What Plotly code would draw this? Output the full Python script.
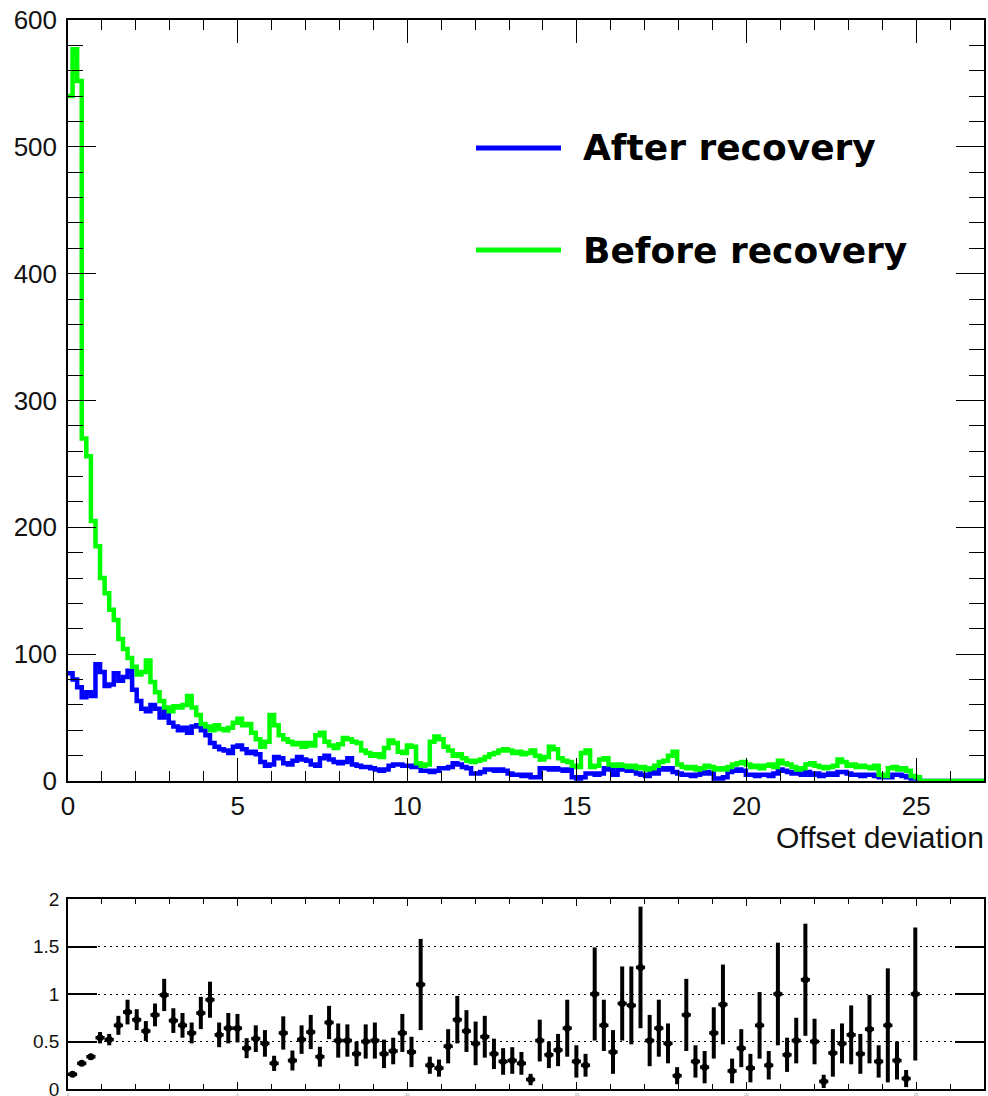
import numpy as np
import plotly.graph_objects as go

# ---------------- data ----------------
x_min, x_max, n_bins = 0.0, 27.0, 200          # top histograms
ratio_bins = 100                                # ratio panel (rebinned x2)

before_recovery = [
    540, 577, 552, 270, 256, 205, 185, 160, 148, 135,
    127, 112, 104, 97, 90, 84, 86, 95, 78, 70,
    63, 58, 55, 59, 58, 60, 67, 58, 52, 45,
    43, 40, 44, 41, 40, 42, 46, 49, 44, 45,
    38, 33, 27, 31, 52, 44, 36, 33, 31, 29,
    30, 27, 30, 28, 36, 38, 31, 28, 26, 29,
    34, 33, 31, 30, 24, 22, 20, 21, 19, 26,
    32, 30, 23, 22, 28, 27, 14, 12, 13, 31,
    35, 33, 27, 24, 20, 21, 18, 16, 15, 16,
    17, 19, 21, 22, 24, 25, 24, 22, 23, 21,
    22, 24, 20, 17, 19, 27, 25, 18, 16, 15,
    12, 11, 22, 24, 11, 12, 17, 18, 13, 12,
    13, 12, 11, 12, 10, 11, 9, 10, 12, 15,
    16, 20, 23, 13, 11, 10, 11, 9, 10, 12,
    11, 9, 10, 9, 11, 13, 14, 15, 13, 11,
    12, 10, 12, 13, 11, 16, 14, 13, 11, 9,
    10, 13, 14, 12, 11, 10, 11, 12, 17, 15,
    12, 13, 11, 12, 11, 10, 12, 5, 4, 10,
    11, 9, 10, 8, 4, 3, 0, 0, 0, 0,
    0, 0, 0, 0, 0, 0, 0, 0, 0, 0,
]

after_recovery = [
    85, 80, 74, 66, 70, 67, 92, 86, 75, 76,
    85, 79, 82, 87, 72, 63, 57, 55, 60, 57,
    50, 55, 46, 43, 40, 42, 38, 43, 44, 40,
    36, 30, 27, 25, 24, 22, 27, 28, 25, 22,
    23, 21, 15, 12, 13, 19, 18, 14, 13, 16,
    19, 17, 16, 13, 12, 18, 20, 17, 15, 14,
    15, 18, 13, 12, 11, 11, 10, 9, 8, 9,
    12, 13, 13, 12, 12, 11, 13, 8, 8, 7,
    8, 10, 10, 11, 14, 13, 11, 10, 6, 6,
    7, 9, 9, 8, 9, 8, 6, 5, 5, 4,
    5, 3, 3, 10, 10, 9, 10, 9, 8, 9,
    3, 2, 3, 6, 6, 5, 6, 10, 9, 5,
    9, 9, 8, 9, 6, 5, 4, 7, 6, 10,
    9, 10, 7, 6, 5, 5, 4, 5, 6, 7,
    6, 2, 2, 3, 7, 8, 9, 8, 5, 5,
    4, 5, 5, 4, 6, 9, 8, 7, 6, 6,
    5, 7, 5, 6, 4, 5, 6, 5, 7, 7,
    6, 5, 5, 4, 5, 5, 4, 3, 3, 3,
    5, 5, 4, 3, 2, 2, 0, 0, 0, 0,
    0, 0, 0, 0, 0, 0, 0, 0, 0, 0,
]

ratio_values = [
    0.155, 0.27, 0.34, 0.54, 0.52, 0.67, 0.81, 0.73, 0.61, 0.78,
    0.99, 0.72, 0.67, 0.59, 0.80, 0.94, 0.57, 0.64, 0.64, 0.43,
    0.53, 0.48, 0.27, 0.59, 0.30, 0.52, 0.60, 0.34, 0.70, 0.51,
    0.51, 0.37, 0.50, 0.51, 0.37, 0.40, 0.59, 0.39, 1.10, 0.25,
    0.22, 0.45, 0.73, 0.61, 0.48, 0.55, 0.37, 0.29, 0.30, 0.27,
    0.10, 0.51, 0.36, 0.41, 0.64, 0.29, 0.25, 1.00, 0.67, 0.39,
    0.90, 0.88, 1.28, 0.51, 0.64, 0.48, 0.14, 0.78, 0.29, 0.23,
    0.59, 0.89, 0.19, 0.43, 0.22, 0.67, 0.25, 1.00, 0.36, 0.51,
    1.15, 0.50, 0.08, 0.38, 0.48, 0.57, 0.37, 0.63, 0.29, 0.67,
    0.30, 0.11, 1.00,
]

ratio_errors = [
    0.012, 0.02, 0.025, 0.06, 0.06, 0.10, 0.13, 0.11, 0.105, 0.12,
    0.17, 0.13, 0.13, 0.11, 0.17, 0.19, 0.13, 0.16, 0.15, 0.105,
    0.14, 0.14, 0.08, 0.175, 0.105, 0.15, 0.18, 0.105, 0.175, 0.18,
    0.17, 0.13, 0.18, 0.19, 0.15, 0.14, 0.20, 0.16, 0.48, 0.09,
    0.09, 0.18, 0.25, 0.22, 0.23, 0.22, 0.16, 0.14, 0.14, 0.12,
    0.06, 0.22, 0.14, 0.17, 0.30, 0.17, 0.12, 0.49, 0.27, 0.23,
    0.39, 0.41, 0.64, 0.27, 0.30, 0.21, 0.09, 0.38, 0.17, 0.17,
    0.27, 0.42, 0.13, 0.20, 0.15, 0.35, 0.15, 0.54, 0.18, 0.24,
    0.59, 0.24, 0.07, 0.25, 0.21, 0.31, 0.21, 0.36, 0.17, 0.60,
    0.20, 0.09, 0.70,
]

legend_labels = ["After recovery", "Before recovery"]
x_title = "Offset deviation"

# ---------------- derived positions ----------------
edges = np.linspace(x_min, x_max, n_bins + 1)
r_edges = np.linspace(x_min, x_max, ratio_bins + 1)
r_centers = 0.5 * (r_edges[:-1] + r_edges[1:])[: len(ratio_values)]
r_half = 0.5 * (r_edges[1] - r_edges[0])


def step_xy(vals):
    return list(edges), list(vals) + [vals[-1]]


BLUE = "#0000ff"
GREEN = "#00ff00"
FONT = "Liberation Sans"

fig = go.Figure()

bx, by = step_xy(after_recovery)
gx, gy = step_xy(before_recovery)
fig.add_trace(go.Scatter(x=bx, y=by, mode="lines", line=dict(color=BLUE, width=4.5, shape="hv"),
                         showlegend=False, xaxis="x", yaxis="y", hoverinfo="skip"))
fig.add_trace(go.Scatter(x=gx, y=gy, mode="lines", line=dict(color=GREEN, width=4.5, shape="hv"),
                         showlegend=False, xaxis="x", yaxis="y", hoverinfo="skip"))

fig.add_trace(go.Scatter(
    x=r_centers, y=ratio_values, mode="markers",
    marker=dict(color="black", size=7, symbol="circle"),
    error_y=dict(type="data", array=ratio_errors, color="black", thickness=4, width=0),
    error_x=dict(type="constant", value=r_half, color="black", thickness=3.5, width=0),
    showlegend=False, xaxis="x2", yaxis="y2", hoverinfo="skip"))

top_dom = [(1089 - 781) / 1069, 1.0]
bot_dom = [0.0, (1089 - 899) / 1069]

axis_common = dict(showline=True, linecolor="black", linewidth=1.5, mirror="ticks",
                   ticks="inside", tickcolor="black", tickwidth=1.2, showgrid=False,
                   zeroline=False, automargin=False)

fig.update_layout(
    width=988, height=1096,
    margin=dict(l=68, r=4, t=20, b=7, autoexpand=False),
    paper_bgcolor="white", plot_bgcolor="white",
    font=dict(family=FONT, color="black"),
    xaxis=dict(domain=[0, 1], range=[x_min, x_max], anchor="y",
               tickmode="linear", tick0=0, dtick=5, ticklen=23,
               minor=dict(ticks="inside", dtick=1, ticklen=10, tickcolor="black", tickwidth=1.2),
               tickfont=dict(size=26, family=FONT, color="#111"), ticklabelstandoff=1,
               **axis_common),
    yaxis=dict(domain=top_dom, range=[0, 600], anchor="x",
               tickmode="linear", tick0=0, dtick=100, ticklen=28,
               minor=dict(ticks="inside", dtick=20, ticklen=15, tickcolor="black", tickwidth=1.2),
               tickfont=dict(size=26, family=FONT, color="#111"), ticklabelstandoff=4,
               ticklabeloverflow="allow", **axis_common),
    xaxis2=dict(domain=[0, 1], range=[x_min, x_max], anchor="y2",
                tickmode="linear", tick0=0, dtick=5, ticklen=7,
                minor=dict(ticks="inside", dtick=1, ticklen=5, tickcolor="black", tickwidth=1.2),
                tickfont=dict(size=4, family=FONT, color="#888"), ticklabelstandoff=0,
                ticklabeloverflow="allow", **axis_common),
    yaxis2=dict(domain=bot_dom, range=[0, 2], anchor="x2",
                tickmode="array", tickvals=[0, 0.5, 1, 1.5, 2], ticktext=["0", "0.5", "1", "1.5", "2"],
                ticklen=29, tickfont=dict(size=19, family=FONT, color="#111"), ticklabelstandoff=3,
                ticklabeloverflow="allow",
                showline=True, linecolor="black", linewidth=1.5, mirror="ticks",
                ticks="inside", tickcolor="black", tickwidth=1.5, zeroline=False, automargin=False,
                showgrid=True, gridcolor="black", gridwidth=1.2, griddash="2px,4px"),
)

# legend (drawn manually to match the original layout)
leg_x0, leg_x1 = (476 - 68) / 916, (561 - 68) / 916
for lbl, col, ypos in [(legend_labels[0], BLUE, (1089 - 148) / 1069),
                       (legend_labels[1], GREEN, (1089 - 250) / 1069)]:
    fig.add_shape(type="line", xref="paper", yref="paper", x0=leg_x0, x1=leg_x1, y0=ypos, y1=ypos,
                  line=dict(color=col, width=5))
    fig.add_annotation(text=f"<b>{lbl}</b>", xref="paper", yref="paper", x=(581 - 68) / 916, y=ypos,
                       xanchor="left", yanchor="middle", showarrow=False,
                       font=dict(family="DejaVu Sans", size=36, color="black"))

fig.add_annotation(text=x_title, xref="paper", yref="paper", x=(986 - 68) / 916, y=(1089 - 837) / 1069,
                   xanchor="right", yanchor="middle", showarrow=False,
                   font=dict(family=FONT, size=30, color="#111"))

fig.write_html("out.html")
